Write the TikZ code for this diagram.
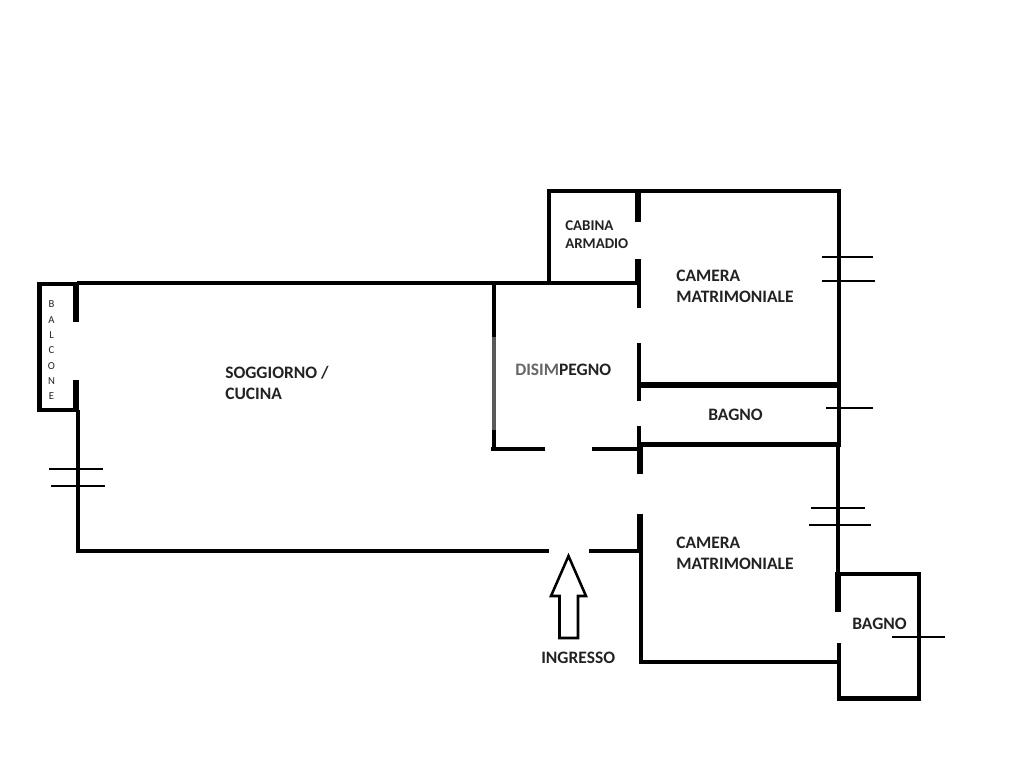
\documentclass[tikz,border=0pt]{standalone}
\usepackage{fontspec}
\setmainfont{Carlito}
\usepackage{xcolor}
\usetikzlibrary{positioning}
\definecolor{walltext}{HTML}{222222}
\tikzset{
  wall/.style={line width=3pt,line cap=butt},
  thickwall/.style={line width=4.5pt,line cap=butt},
  partition/.style={line width=2.6pt,line cap=butt},
  glass/.style={line width=1.9pt,line cap=butt},
  roomlabel/.style={anchor=west,inner sep=0pt,align=left,text=walltext,font=\fontsize{13.1}{15.75}\selectfont\bfseries},
  smalllabel/.style={anchor=west,inner sep=0pt,align=left,text=walltext,font=\fontsize{11.2}{13.5}\selectfont\bfseries},
  balconylabel/.style={inner sep=0pt,align=center,text=walltext,font=\fontsize{8}{11.5}\selectfont}
}
\begin{document}
\begin{tikzpicture}[x=0.75pt,y=-0.75pt]
\useasboundingbox (0,0) rectangle (1024,768);
% balcony and living room
\draw[thickwall,line width=3.6pt] (77,284) -- (39.5,284) -- (39.5,410) -- (77,410);
\draw[wall] (77,283) -- (639,283);
\draw[thickwall,line width=5.2pt] (76,284) -- (76,322);
\draw[thickwall,line width=5.2pt] (76,380) -- (76,411);
\draw[wall] (77.5,410) -- (77.5,551);
\draw[wall] (75.5,551) -- (549,551);
\draw[wall] (589,551) -- (641,551);
% wardrobe and first bedroom
\draw[wall] (549,283) -- (549,191);
\draw[wall] (547,191) -- (841,191);
\draw[thickwall] (638,189) -- (638,222);
\draw[thickwall] (638,259) -- (638,285);
\draw[thickwall,line width=3.6pt] (639,285) -- (639,308);
\draw[wall] (639,343) -- (639,401);
\draw[wall] (639,426) -- (639,445);
\draw[wall] (839,189) -- (839,446);
\draw[thickwall] (640,384.5) -- (839,384.5);
\draw[wall,line width=3.6pt] (640,444.5) -- (841,444.5);
% hall
\draw[wall] (494,284) -- (494,337);
\draw[wall,draw=black!65] (494,337) -- (494,430);
\draw[wall] (494,430) -- (494,450);
\draw[partition] (491,449) -- (545,449);
\draw[partition] (592,449) -- (640,449);
% second bedroom and bath
\draw[thickwall] (640,445) -- (640,474);
\draw[thickwall] (640,514) -- (640,552);
\draw[wall] (641,551) -- (641,664);
\draw[wall] (639.5,662) -- (838,662);
\draw[wall] (838,445) -- (838,574);
\draw[thickwall] (838,572) -- (838,612);
\draw[thickwall,line width=3.6pt] (839,643) -- (839,700);
\draw[wall,line width=3.6pt] (838,574) -- (919,574) -- (919,698.5) -- (837,698.5);
% windows
\draw[glass] (822,257) -- (873,257);
\draw[glass] (822,281) -- (875,281);
\draw[glass] (826,408) -- (873,408);
\draw[glass] (811,508) -- (865,508);
\draw[glass] (809,525) -- (871,525);
\draw[glass] (892,637) -- (945,637);
\draw[glass] (49,469) -- (103,469);
\draw[glass] (51,486) -- (105,486);
% entrance
\draw[partition,line width=1.9pt,line join=miter] (568.5,556) -- (586,596) -- (578,596) -- (578,638) -- (559.5,638) -- (559.5,596) -- (551,596) -- cycle;
% labels
\node[roomlabel] (soggiorno) at (225,382.5) {SOGGIORNO /\\CUCINA};
\node[smalllabel] (cabina) at (565,235) {CABINA\\ARMADIO};
\node[roomlabel] (cameraup) at (676,286.5) {CAMERA\\MATRIMONIALE};
\node[roomlabel] (disimpegno) at (515,370) {{\color{black!60}DISIM}PEGNO};
\node[roomlabel] (bagnoup) at (708,414.5) {BAGNO};
\node[roomlabel] (cameradown) at (676,553.5) {CAMERA\\MATRIMONIALE};
\node[roomlabel] (bagnodown) at (852,623.5) {BAGNO};
\node[roomlabel] (ingresso) at (541,657.5) {INGRESSO};
\node[balconylabel] (balcone) at (51.5,350.5) {B\\A\\L\\C\\O\\N\\E};
\end{tikzpicture}
\end{document}
